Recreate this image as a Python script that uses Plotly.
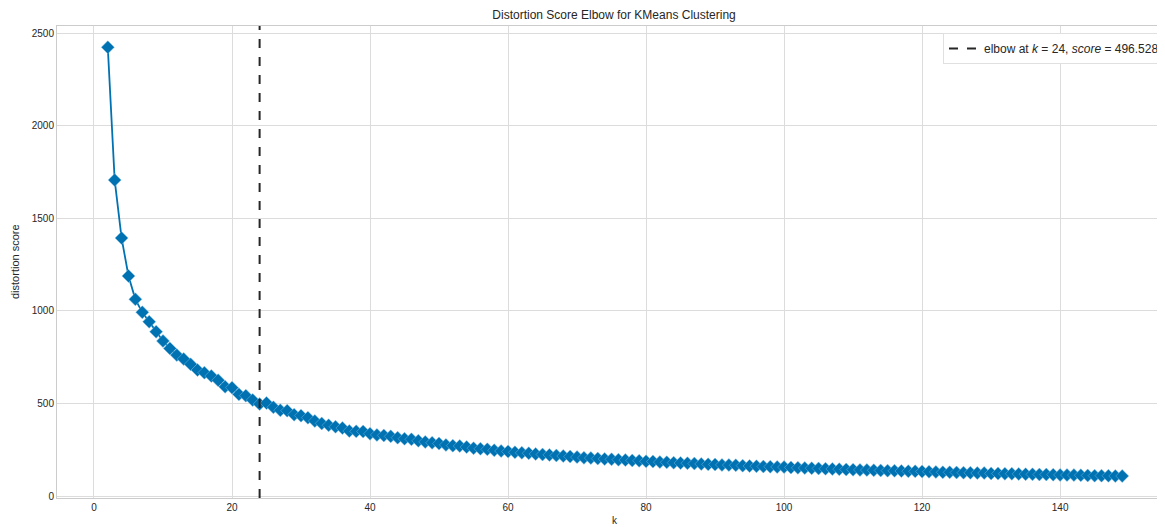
import plotly.graph_objects as go

k_values = list(range(2, 150))
distortion = [
    2423, 1706, 1393, 1188, 1062, 992, 941, 887, 837, 797,
    761, 740, 711, 680, 666, 648, 625, 590, 585, 549,
    542, 518, 496.528, 502, 479, 463, 461, 439, 434, 423,
    405, 392, 382, 374, 367, 351, 349, 348, 336, 330,
    327, 322, 315, 309, 306, 298, 292, 287, 283, 276,
    272, 270, 264, 258, 255, 252, 247, 243, 240, 236,
    233, 231, 227, 224, 222, 219, 216, 213, 210, 206,
    205, 202, 200, 198, 196, 194, 192, 190, 187, 186,
    183, 182, 180, 178, 177, 175, 173, 171, 170, 168,
    167, 166, 164, 162, 161, 159, 158, 157, 156, 154,
    152, 151, 150, 149, 147, 146, 145, 143, 142, 141,
    140, 139, 138, 137, 136, 135, 134, 133, 132, 131,
    130, 128, 128, 127, 126, 125, 124, 124, 122, 121,
    120, 120, 119, 118, 117, 116, 116, 115, 114, 113,
    113, 112, 111, 110, 110, 109, 108, 108,
]
assert len(k_values) == len(distortion)

elbow_k = 24
elbow_score = 496.528

x_ticks = [0, 20, 40, 60, 80, 100, 120, 140]
y_ticks = [0, 500, 1000, 1500, 2000, 2500]

line_color = "#0072B2"
grid_color = "#dcdcdc"
font_family = "Liberation Sans, Arial, sans-serif"

fig = go.Figure()
fig.add_trace(go.Scatter(
    x=k_values, y=distortion, mode="lines+markers",
    line=dict(color=line_color, width=1.8),
    marker=dict(symbol="diamond", size=10, color=line_color,
                line=dict(color="rgba(120,190,230,0.6)", width=0.8)),
    showlegend=False, hoverinfo="x+y",
))
fig.add_vline(
    x=elbow_k, line=dict(color="#262626", width=2, dash="dash"),
    showlegend=True,
    name=f"elbow at <i>k</i> = {elbow_k}, <i>score</i> = {elbow_score:.3f}",
)

# The page body has an 8px default margin, so the figure is sized to fit.
fig.update_layout(
    width=1157, height=519,
    margin=dict(l=49, r=0, t=18, b=29),
    paper_bgcolor="white", plot_bgcolor="white",
    font=dict(family=font_family, size=10, color="#262626"),
    title=dict(text="Distortion Score Elbow for KMeans Clustering",
               xref="container", x=0.5238, xanchor="center",
               y=0.9865, yanchor="middle",
               font=dict(size=12, color="#262626")),
    legend=dict(x=1.0, y=0.985, xanchor="right", yanchor="top",
                bgcolor="white", bordercolor="#e0e0e0", borderwidth=1,
                font=dict(size=12, color="#262626")),
    xaxis=dict(range=[-5.36, 155.2], tickvals=x_ticks, automargin=False,
               showgrid=True, gridcolor=grid_color, gridwidth=1,
               zeroline=False, showline=True, linecolor="#cccccc", linewidth=1,
               mirror=True, ticks="", tickfont=dict(size=10)),
    yaxis=dict(range=[-10.8, 2538], tickvals=y_ticks, automargin=False,
               showgrid=True, gridcolor=grid_color, gridwidth=1,
               zeroline=False, showline=True, linecolor="#cccccc", linewidth=1,
               mirror=True, ticks="", tickfont=dict(size=10)),
    annotations=[
        dict(text="k", xref="paper", yref="paper", x=0.5, y=0, yshift=-15,
             xshift=4, xanchor="center", yanchor="top", showarrow=False,
             font=dict(size=10, color="#262626")),
        dict(text="distortion score", xref="paper", yref="paper", x=0, y=0.5,
             xshift=-34, xanchor="right", yanchor="middle", textangle=-90,
             showarrow=False, font=dict(size=11, color="#262626")),
    ],
)

fig.write_html("out.html")
